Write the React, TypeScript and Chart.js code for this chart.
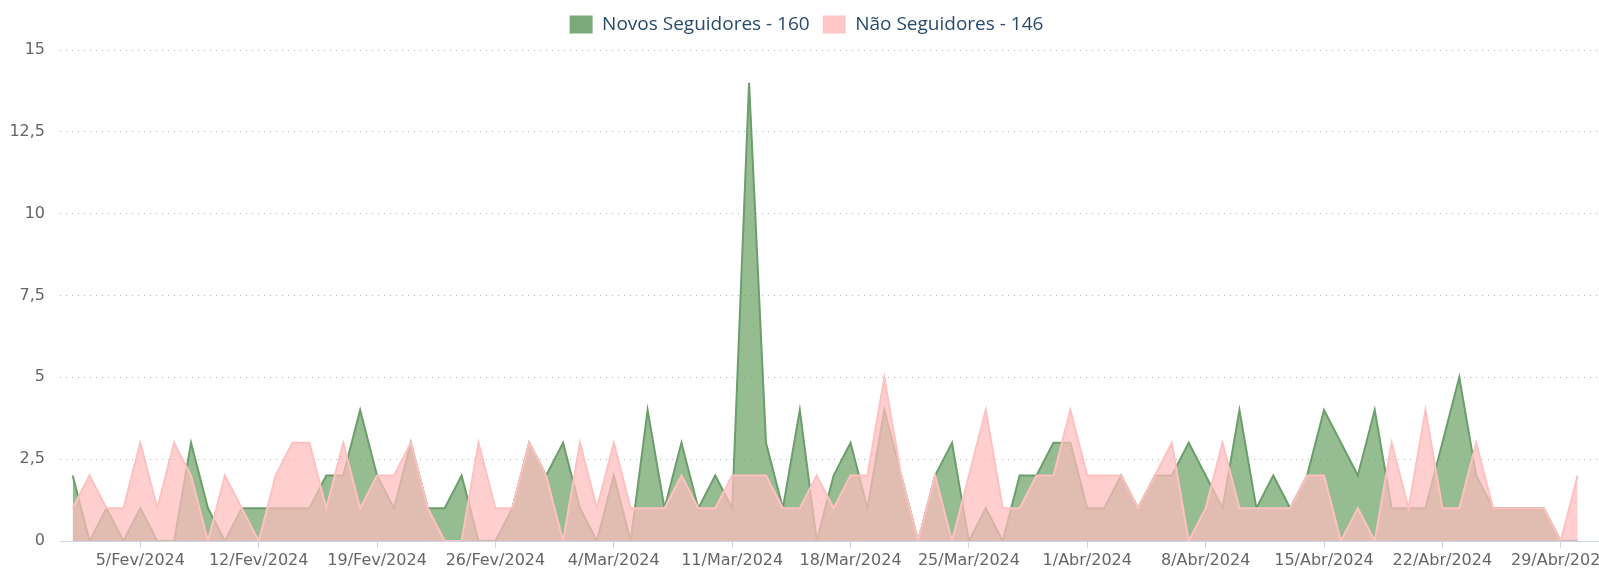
import React, { useEffect, useRef } from "react";
import { Chart, registerables } from "chart.js";

Chart.register(...registerables);

const days: string[] = [
  "1/Fev/2024", "2/Fev/2024", "3/Fev/2024", "4/Fev/2024", "5/Fev/2024", "6/Fev/2024", "7/Fev/2024",
  "8/Fev/2024", "9/Fev/2024", "10/Fev/2024", "11/Fev/2024", "12/Fev/2024", "13/Fev/2024", "14/Fev/2024",
  "15/Fev/2024", "16/Fev/2024", "17/Fev/2024", "18/Fev/2024", "19/Fev/2024", "20/Fev/2024", "21/Fev/2024",
  "22/Fev/2024", "23/Fev/2024", "24/Fev/2024", "25/Fev/2024", "26/Fev/2024", "27/Fev/2024", "28/Fev/2024",
  "29/Fev/2024",
  "1/Mar/2024", "2/Mar/2024", "3/Mar/2024", "4/Mar/2024", "5/Mar/2024", "6/Mar/2024", "7/Mar/2024",
  "8/Mar/2024", "9/Mar/2024", "10/Mar/2024", "11/Mar/2024", "12/Mar/2024", "13/Mar/2024", "14/Mar/2024",
  "15/Mar/2024", "16/Mar/2024", "17/Mar/2024", "18/Mar/2024", "19/Mar/2024", "20/Mar/2024", "21/Mar/2024",
  "22/Mar/2024", "23/Mar/2024", "24/Mar/2024", "25/Mar/2024", "26/Mar/2024", "27/Mar/2024", "28/Mar/2024",
  "29/Mar/2024", "30/Mar/2024", "31/Mar/2024",
  "1/Abr/2024", "2/Abr/2024", "3/Abr/2024", "4/Abr/2024", "5/Abr/2024", "6/Abr/2024", "7/Abr/2024",
  "8/Abr/2024", "9/Abr/2024", "10/Abr/2024", "11/Abr/2024", "12/Abr/2024", "13/Abr/2024", "14/Abr/2024",
  "15/Abr/2024", "16/Abr/2024", "17/Abr/2024", "18/Abr/2024", "19/Abr/2024", "20/Abr/2024", "21/Abr/2024",
  "22/Abr/2024", "23/Abr/2024", "24/Abr/2024", "25/Abr/2024", "26/Abr/2024", "27/Abr/2024", "28/Abr/2024",
  "29/Abr/2024", "30/Abr/2024",
];

const weekTicks: string[] = [
  "5/Fev/2024", "12/Fev/2024", "19/Fev/2024", "26/Fev/2024", "4/Mar/2024", "11/Mar/2024",
  "18/Mar/2024", "25/Mar/2024", "1/Abr/2024", "8/Abr/2024", "15/Abr/2024", "22/Abr/2024", "29/Abr/2024",
];

const novosSeguidores: number[] = [
  2, 0, 1, 0, 1, 0, 0, 3, 1, 0,
  1, 1, 1, 1, 1, 2, 2, 4, 2, 1,
  3, 1, 1, 2, 0, 0, 1, 3, 2, 3,
  1, 0, 2, 0, 4, 1, 3, 1, 2, 1,
  14, 3, 1, 4, 0, 2, 3, 1, 4, 2,
  0, 2, 3, 0, 1, 0, 2, 2, 3, 3,
  1, 1, 2, 1, 2, 2, 3, 2, 1, 4,
  1, 2, 1, 2, 4, 3, 2, 4, 1, 1,
  1, 3, 5, 2, 1, 1, 1, 1, 0, 0,
];

const naoSeguidores: number[] = [
  1, 2, 1, 1, 3, 1, 3, 2, 0, 2,
  1, 0, 2, 3, 3, 1, 3, 1, 2, 2,
  3, 1, 0, 0, 3, 1, 1, 3, 2, 0,
  3, 1, 3, 1, 1, 1, 2, 1, 1, 2,
  2, 2, 1, 1, 2, 1, 2, 2, 5, 2,
  0, 2, 0, 2, 4, 1, 1, 2, 2, 4,
  2, 2, 2, 1, 2, 3, 0, 1, 3, 1,
  1, 1, 1, 2, 2, 0, 1, 0, 3, 1,
  4, 1, 1, 3, 1, 1, 1, 1, 0, 2,
];

const yTicks: number[] = [0, 2.5, 5, 7.5, 10, 12.5, 15];

const seriesNames = ["Novos Seguidores", "Não Seguidores"];
const legendColors = ["#7aa97a", "#ffc6c6"];

const sum = (a: number[]) => a.reduce((s, v) => s + v, 0);

export default function App() {
  const ref = useRef<HTMLCanvasElement | null>(null);

  useEffect(() => {
    if (!ref.current) return;
    const tickIdx = weekTicks.map((l) => days.indexOf(l));
    const chart = new Chart(ref.current, {
      type: "line",
      data: {
        datasets: [
          {
            label: `${seriesNames[0]} - ${sum(novosSeguidores)}`,
            data: novosSeguidores.map((y, i) => ({ x: days.indexOf(days[i]), y })),
            borderColor: "#6b9e6b",
            backgroundColor: "rgba(105,160,100,0.7)",
            borderWidth: 2,
            fill: "origin",
            tension: 0,
            pointRadius: 0,
            pointHoverRadius: 0,
            order: 1,
          },
          {
            label: `${seriesNames[1]} - ${sum(naoSeguidores)}`,
            data: naoSeguidores.map((y, i) => ({ x: days.indexOf(days[i]), y })),
            borderColor: "#ffc0c0",
            backgroundColor: "rgba(255,188,188,0.72)",
            borderWidth: 2,
            fill: "origin",
            tension: 0,
            pointRadius: 0,
            pointHoverRadius: 0,
            order: 0,
          },
        ],
      },
      options: {
        animation: false,
        responsive: false,
        maintainAspectRatio: false,
        events: [],
        layout: { padding: { top: 2, left: 0, right: 0, bottom: 0 } },
        plugins: {
          tooltip: { enabled: false },
          title: {
            display: true,
            text: " ",
            weight: 500,
            font: { size: 1, lineHeight: 1 },
            padding: { top: 0, bottom: 5 },
          } as any,
          legend: {
            display: true,
            position: "top",
            labels: {
              boxWidth: 23,
              boxHeight: 18,
              padding: 13,
              color: "#274b6d",
              font: { family: "'Open Sans', sans-serif", size: 19 },
              sort: (a: any, b: any) => a.datasetIndex - b.datasetIndex,
              generateLabels: (c: any) => {
                const items = Chart.defaults.plugins.legend.labels.generateLabels(c);
                return items.map((it: any) => ({
                  ...it,
                  fillStyle: legendColors[it.datasetIndex],
                  strokeStyle: legendColors[it.datasetIndex],
                  lineWidth: 0,
                }));
              },
            },
          },
        },
        scales: {
          x: {
            type: "linear",
            min: -0.75,
            max: 91.09,
            bounds: "data",
            grid: {
              display: true,
              drawOnChartArea: false,
              drawTicks: true,
              tickLength: 7,
              color: "#ccd6eb",
            },
            border: { display: true, color: "#ccd6eb", width: 1 },
            ticks: {
              autoSkip: false,
              maxRotation: 0,
              minRotation: 0,
              padding: 3,
              color: "#666666",
              font: { family: "'DejaVu Sans', sans-serif", size: 16 },
              callback: (v: any) => {
                const k = tickIdx.indexOf(Number(v));
                return k >= 0 ? weekTicks[k] : null;
              },
            },
            afterBuildTicks: (scale: any) => {
              scale.ticks = tickIdx.map((v) => ({ value: v }));
            },
            afterFit: (scale: any) => {
              scale.paddingLeft = 0;
              scale.paddingRight = 0;
              scale.height = 27;
            },
          },
          y: {
            min: 0,
            max: 15,
            grid: {
              color: "#b4b4b4",
              drawTicks: false,
              tickLength: 0,
            },
            border: { display: false, dash: [1, 5] },
            ticks: {
              padding: 15,
              color: "#666666",
              font: { family: "'DejaVu Sans', sans-serif", size: 16 },
              callback: (v: any) => String(v).replace(".", ","),
            },
            afterBuildTicks: (scale: any) => {
              scale.ticks = yTicks.map((v) => ({ value: v }));
            },
            afterFit: (scale: any) => {
              scale.width = 60;
            },
          },
        },
      },
    });
    return () => chart.destroy();
  }, []);

  return (
    <div style={{ position: "absolute", left: 0, top: 0, width: 1599, height: 568, background: "#fff", overflow: "hidden" }}>
      <canvas ref={ref} width={1613} height={568} style={{ display: "block" }} />
    </div>
  );
}
